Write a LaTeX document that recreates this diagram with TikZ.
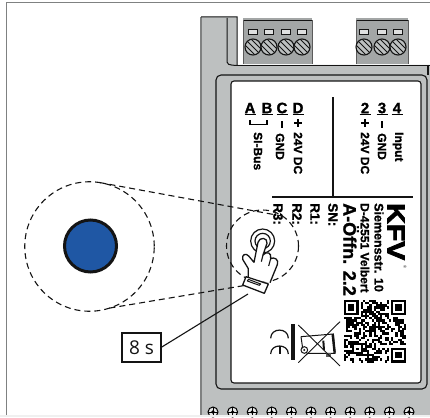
\documentclass[tikz,border=0pt]{standalone}
\usepackage{fontspec}
\setmainfont[BoldFeatures={FakeBold=1.2}]{Liberation Sans}
\newfontfamily\boxfont{Open Sans}
\newfontfamily\heavyfont[FakeBold=3]{Liberation Sans Bold}
\newcommand{\fz}[1]{\fontsize{#1}{#1}\selectfont}
\definecolor{bodygray}{HTML}{BDC0C0}
\definecolor{termgray}{HTML}{A3A6A6}
\definecolor{edgegray}{HTML}{7F8181}
\definecolor{bluebtn}{HTML}{1F57A4}
\definecolor{dark}{HTML}{141414}
\tikzset{
  x=1pt,y=-1pt,
  dashline/.style={draw=dark,line width=1.1pt,dash pattern=on 6pt off 4pt},
  rlabel/.style={rotate=-90,anchor=west,inner sep=0,font=\bfseries\fz{12},text=black},
  rsmall/.style={rotate=-90,anchor=west,inner sep=0,font=\bfseries\fz{13.5},text=black},
  head/.style={inner sep=0,font=\bfseries\fz{15},text=black,anchor=center},
  thin line/.style={draw=dark,line width=1.1pt},
  pics/screwhead/.style={code={
    \fill[bodygray] (0,0) circle[radius=8];
    \begin{scope}
      \clip (0,0) circle[radius=8];
      \foreach \d in {-6,-3,0,3,6}
        \draw[dark,line width=0.9pt] (-9+\d,-9-\d) -- (9+\d,9-\d);
    \end{scope}
    \draw[dark,line width=1.1pt] (0,0) circle[radius=8];
  }},
  pics/slotmark/.style={code={
    \draw[dark,line width=0.8pt,fill=bodygray!50!white] (-4.5,-2.5) rectangle (4.5,2.5);
  }},
  pics/footscrew/.style={code={
    \draw[black,line width=1pt,fill=bodygray!40!white] (0,0) circle[radius=5];
    \draw[black,line width=1pt] (0,-5) -- (0,5) (-5,0) -- (5,0);
    \fill[black] (0,0) circle[radius=1.8];
  }}
}
\begin{document}
\begin{tikzpicture}
\useasboundingbox (0,0) rectangle (430,417);
\clip (0,0) rectangle (430,417);
\fill[white] (0,0) rectangle (430,417);
% device body
\fill[bodygray] (201,17) -- (237,17) -- (237,65) -- (430,65) -- (430,415) -- (201,415) -- cycle;
% terminal blocks
\foreach \xa/\xb in {243/312,356/408}{
  \fill[termgray] (\xa,18) rectangle (\xb,64);
  \draw[dark,line width=1.3pt] (\xa,20.5) -- (\xb,20.5);
  \draw[dark!70,line width=0.7pt] (\xa,64) -- (\xa,20.5) (\xb,64) -- (\xb,20.5);
}
\foreach \x in {253,269,286,302,364,382,398}{
  \pic at (\x,32) {slotmark};
  \pic at (\x,47) {screwhead};
}
% body outlines
\draw[edgegray,line width=2pt] (201,17) -- (201,415);
\draw[dark,line width=1pt] (201,17) -- (237,17) -- (237,60) .. controls (238,62) and (236,65) .. (237,66);
\draw[dark,line width=1pt] (227,18) -- (227,62) .. controls (227,64) and (228,65) .. (237,65.5);
\draw[dark,line width=1.8pt] (237,65.5) -- (430,65.5);
\draw[dark,line width=1.5pt] (428,65) -- (428,75);
\draw[dark,line width=1.1pt,rounded corners=5pt] (216,75) rectangle (427,389);
\draw[dark,line width=1.1pt,fill=white,rounded corners=3pt] (231,81) rectangle (421,383);
% foot screws
\foreach \x in {213,232.6,252.2,271.8,291.4,311,330.6,350.2,369.8,389.4,409}
  \pic at (\x,412) {footscrew};
% strip below the frame
\fill[black!6] (0,415) rectangle (430,417);
% frame
\draw[edgegray,line width=1.8pt] (6.5,415) -- (6.5,2.5) -- (430,2.5);
% label dividers
\draw[dark,line width=1.2pt] (333,97) -- (333,197);
\draw[dark,line width=1.2pt] (272,197) -- (413,197);
% header letters
\foreach \x/\t in {250/A,267/B,282/C,298/D,365/2,382/3,397/4}{
  \node[head] (h\t) at (\x,108) {\t};
  \draw[black,line width=1.2pt] (\x-5.5,114.5) -- (\x+5.5,114.5);
}
\draw[black,line width=1.2pt] (250,120) -- (250,124.5) -- (267,124.5) -- (267,120);
\foreach \x in {282,382} \draw[black,line width=1.5pt] (\x,121) -- (\x,128);
\foreach \x in {298,365} \draw[black,line width=1.5pt] (\x,119) -- (\x,127) (\x-4,123) -- (\x+4,123);
\node[rlabel] (sibus) at (258,132) {SI-Bus};
\node[rlabel] (gnda) at (280,133) {GND};
\node[rlabel] (dca) at (298,132) {24V DC};
\node[rlabel] (dcb) at (365,132) {24V DC};
\node[rlabel] (gndb) at (382,133) {GND};
\node[rlabel] (inp) at (398,132) {Input};
% type plate text
\node[rsmall] (r3) at (278,203) {R3:};
\node[rsmall] (r2) at (297,203) {R2:};
\node[rsmall] (r1) at (315,203) {R1:};
\node[rsmall] (sn) at (333,203) {SN:};
\node[rotate=-90,anchor=west,inner sep=0,font=\bfseries\fz{18},text=black] (offn) at (351,203) {A-Öffn. 2.2};
\node[rlabel] (addr) at (365,203) {D-42551 Velbert};
\node[rotate=-90,anchor=west,inner sep=0,font=\bfseries\fz{12.5},text=black] (str) at (379,203) {Siemensstr. 10};
\node[rotate=-90,anchor=west,inner sep=0,font=\heavyfont\fz{25},text=black,xscale=1.14] (kfv) at (396,203) {KFV};
\node[rotate=-90,inner sep=0,font=\fz{4},text=dark] (reg) at (405,267) {®};
% QR code
\begin{scope}[shift={(343.5,300)}]
  \pgfmathsetseed{23}
  \def\qc{2.16}
  \foreach \r in {0,...,28}{
    \foreach \c in {0,...,28}{
      \pgfmathtruncatemacro\bit{rnd<0.56}
      \ifnum\bit=1
        \fill[black] (\c*\qc,\r*\qc) rectangle (\c*\qc+2.2,\r*\qc+2.2);
      \fi
    }
  }
  \fill[white] (0,0) rectangle (8*\qc,8*\qc);
  \fill[white] (21*\qc,0) rectangle (29*\qc+0.2,8*\qc);
  \fill[white] (21*\qc,21*\qc) rectangle (29*\qc+0.2,29*\qc+0.2);
  \foreach \fx/\fy in {0/0,22/0,22/22}{
    \fill[black] (\fx*\qc,\fy*\qc) rectangle ++(7*\qc,7*\qc);
    \fill[white] (\fx*\qc+\qc,\fy*\qc+\qc) rectangle ++(5*\qc,5*\qc);
    \fill[black] (\fx*\qc+2*\qc,\fy*\qc+2*\qc) rectangle ++(3*\qc,3*\qc);
  }
  \fill[black] (4*\qc,20*\qc) rectangle ++(5*\qc,5*\qc);
  \fill[white] (5*\qc,21*\qc) rectangle ++(3*\qc,3*\qc);
  \fill[black] (6*\qc,22*\qc) rectangle ++(\qc,\qc);
\end{scope}
% CE mark and crossed-out bin (zoomed coordinates)
\begin{scope}[shift={(200,270)},x=0.3333pt,y=-0.3333pt]
  \draw[dark,line width=1.2pt] (212,205) .. controls (212,172) and (265,172) .. (265,205);
  \draw[dark,line width=1.2pt] (212,252) .. controls (212,220) and (265,220) .. (265,252);
  \draw[dark,line width=1.2pt] (240,228) -- (240,252);
  \fill[dark] (274,163) rectangle (285,270);
  \draw[dark,line width=1pt] (303,200) -- (400,192) -- (405,250) -- (320,250);
  \draw[dark,line width=1pt] (303,200) -- (308,235);
  \draw[dark,line width=2.4pt] (398,192) -- (404,248);
  \draw[dark,line width=2pt] (370,212) -- (372,240);
  \draw[dark,line width=1pt] (313,240) circle[radius=10];
  \fill[dark] (313,240) circle[radius=3.5];
  \fill[dark!70] (378,250) rectangle (392,260);
  \draw[dark,line width=0.9pt] (295,165) -- (420,288);
  \draw[dark,line width=0.9pt] (295,278) -- (420,155);
\end{scope}
% rings and button
\node[circle,draw=dark,line width=3pt,fill=bluebtn,minimum size=52pt,inner sep=0,outer sep=0] (btn) at (90.5,246) {};
\node[circle,dashline,minimum size=129.5pt,inner sep=0,outer sep=0] (bigring) at (89.5,246.5) {};
\node[circle,dashline,minimum size=72pt,inner sep=0,outer sep=0] (smallring) at (262.5,246) {};
\draw[dashline] (bigring.81) -- (smallring.56.5);
\draw[dashline] (bigring.-72) -- (smallring.-78.5);
% hand (zoomed coordinates)
\begin{scope}[shift={(220,210)},x=0.3333pt,y=-0.3333pt,line join=round]
  \draw[dark,line width=1.2pt] (128,93) circle[radius=36];
  \draw[dark,line width=1.2pt] (128,93) circle[radius=23];
  \draw[dark,line width=1.3pt,fill=white] (85,205) -- (85,176) -- (68,148)
    .. controls (64,134) and (78,128) .. (86,138) -- (102,157) -- (114,97)
    .. controls (118,80) and (144,82) .. (141,100) -- (129,135)
    .. controls (140,122) and (156,128) .. (152,146)
    .. controls (162,140) and (178,148) .. (172,164) -- (150,218);
  \draw[dark,line width=1.1pt] (129,135) -- (124,155) (152,146) -- (146,168);
  \draw[dark,line width=1.3pt,fill=white] (78,200) -- (145,222) -- (133,250) -- (68,225) -- cycle;
  \draw[dark,line width=1pt] (85,208) -- (122,222) -- (118,226) -- (82,213) -- cycle;
\end{scope}
% timer box and leader
\node[draw=dark,line width=1.1pt,fill=white,minimum width=39pt,minimum height=29pt,inner sep=0,outer sep=0,font=\boxfont\fz{19},text=dark] (timer) at (141.5,347.5) {8 s};
\coordinate (leaderend) at (248,294);
\draw[thin line] (timer.east) -- (leaderend);
\end{tikzpicture}
\end{document}
